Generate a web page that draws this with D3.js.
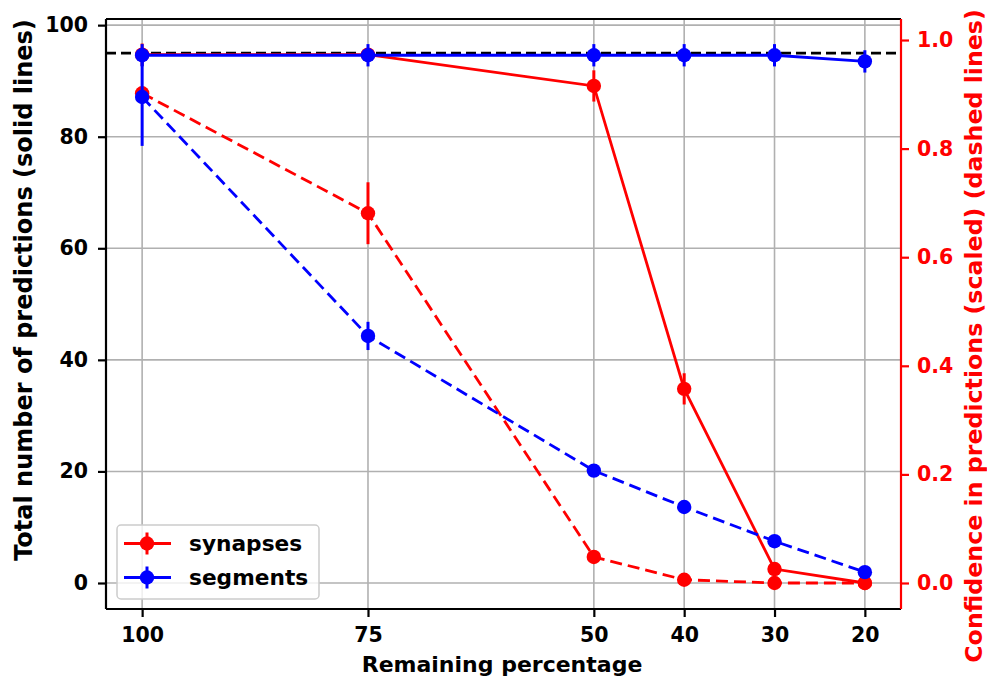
<!DOCTYPE html>
<html><head><meta charset="utf-8">
<script src="https://cdn.jsdelivr.net/npm/d3@7"></script>
<style>
body{margin:0;background:#fff}
svg{display:block}
text{font-family:"DejaVu Sans",sans-serif;font-weight:bold}
</style>
</head><body>
<svg id="chart" width="987" height="680"></svg>
<script>
// ---------- data ----------
const remaining        = [100, 75, 50, 40, 30, 20];
const synapsesCount    = [94.7, 94.7, 89.1, 34.8, 2.5, 0.0];
const synapsesCountErr = [2.0, 0.6, 2.8, 2.8, 0.8, 0.2];
const segmentsCount    = [94.6, 94.6, 94.6, 94.6, 94.6, 93.5];
const segmentsCountErr = [2.0, 2.0, 2.0, 2.0, 2.0, 2.0];
const synapsesConf     = [0.902, 0.681, 0.048, 0.006, 0.0, 0.0];
const synapsesConfErr  = [0.012, 0.057, 0.004, 0.003, 0.001, 0.0];
const segmentsConf     = [0.895, 0.455, 0.207, 0.140, 0.077, 0.020];
const segmentsConfErr  = [0.090, 0.026, 0.003, 0.003, 0.003, 0.002];
const referenceLevel   = 95;
const xTicks      = [100, 75, 50, 40, 30, 20];
const yLeftTicks  = [0, 20, 40, 60, 80, 100];
const yRightTicks = [0.0, 0.2, 0.4, 0.6, 0.8, 1.0];
const seriesNames = ["synapses", "segments"];
const seriesColors = ["#ff0000", "#0000ff"];

// ---------- layout ----------
const plot = {left: 106, right: 901, top: 19, bottom: 609};
const svg = d3.select("#chart");

const x = d3.scaleLinear().domain([104, 16]).range([plot.left, plot.right]);
const yL = d3.scaleLinear().domain([-4.66, 101.1]).range([plot.bottom, plot.top]);
const yR = d3.scaleLinear().domain([-0.0479, 1.0387]).range([plot.bottom, plot.top]);

const TICKFS = 20.5;
const gridColor = "#b0b0b0";
const LW = 2.8, ELW = 3, R = 7.2;

// grid
const grid = svg.append("g");
grid.selectAll("line.gx").data(xTicks).join("line")
  .attr("x1", d => x(d)).attr("x2", d => x(d))
  .attr("y1", plot.top).attr("y2", plot.bottom)
  .attr("stroke", gridColor).attr("stroke-width", 1.6);
grid.selectAll("line.gy").data(yLeftTicks).join("line")
  .attr("x1", plot.left).attr("x2", plot.right)
  .attr("y1", d => yL(d)).attr("y2", d => yL(d))
  .attr("stroke", gridColor).attr("stroke-width", 1.6);

// clip
svg.append("clipPath").attr("id", "clip").append("rect")
  .attr("x", plot.left).attr("y", plot.top)
  .attr("width", plot.right - plot.left).attr("height", plot.bottom - plot.top);
const marks = svg.append("g").attr("clip-path", "url(#clip)");

// reference line
marks.append("line")
  .attr("x1", plot.left).attr("x2", plot.right)
  .attr("y1", yL(referenceLevel)).attr("y2", yL(referenceLevel))
  .attr("stroke", "#000").attr("stroke-width", 2.8).attr("stroke-dasharray", "10,5");

function drawSeries(vals, errs, yScale, color, dashed) {
  const pts = remaining.map((r, i) => ({x: r, y: vals[i], e: errs[i]}));
  const g = marks.append("g");
  g.selectAll("line.err").data(pts).join("line")
    .attr("x1", d => x(d.x)).attr("x2", d => x(d.x))
    .attr("y1", d => yScale(d.y - d.e)).attr("y2", d => yScale(d.y + d.e))
    .attr("stroke", color).attr("stroke-width", ELW);
  g.append("path")
    .attr("d", d3.line().x(d => x(d.x)).y(d => yScale(d.y))(pts))
    .attr("fill", "none").attr("stroke", color).attr("stroke-width", LW)
    .attr("stroke-dasharray", dashed ? "12,6" : null);
  g.selectAll("circle").data(pts).join("circle")
    .attr("cx", d => x(d.x)).attr("cy", d => yScale(d.y)).attr("r", R)
    .attr("fill", color);
}
drawSeries(synapsesCount, synapsesCountErr, yL, seriesColors[0], false);
drawSeries(segmentsCount, segmentsCountErr, yL, seriesColors[1], false);
drawSeries(synapsesConf, synapsesConfErr, yR, seriesColors[0], true);
drawSeries(segmentsConf, segmentsConfErr, yR, seriesColors[1], true);

// spines
const sp = svg.append("g").attr("stroke-width", 2.2);
sp.append("line").attr("x1", plot.left).attr("x2", plot.right).attr("y1", plot.top).attr("y2", plot.top).attr("stroke", "#000");
sp.append("line").attr("x1", plot.left).attr("x2", plot.right).attr("y1", plot.bottom).attr("y2", plot.bottom).attr("stroke", "#000");
sp.append("line").attr("x1", plot.left).attr("x2", plot.left).attr("y1", plot.top).attr("y2", plot.bottom).attr("stroke", "#000");
sp.append("line").attr("x1", plot.right).attr("x2", plot.right).attr("y1", plot.top).attr("y2", plot.bottom).attr("stroke", "#ff0000");

// axes
function styleAxis(g, color) {
  g.select(".domain").remove();
  g.selectAll(".tick line").attr("stroke", color).attr("stroke-width", 2.2);
  g.selectAll(".tick text").attr("fill", color).attr("font-size", TICKFS)
    .attr("font-family", "DejaVu Sans").attr("font-weight", "bold");
}
const xAxis = svg.append("g").attr("transform", `translate(0,${plot.bottom})`)
  .call(d3.axisBottom(x).tickValues(xTicks).tickFormat(d3.format("d")).tickSizeOuter(0).tickSize(8).tickPadding(10));
styleAxis(xAxis, "#000");
const yAxisL = svg.append("g").attr("transform", `translate(${plot.left},0)`)
  .call(d3.axisLeft(yL).tickValues(yLeftTicks).tickFormat(d3.format("d")).tickSizeOuter(0).tickSize(8).tickPadding(10));
styleAxis(yAxisL, "#000");
const yAxisR = svg.append("g").attr("transform", `translate(${plot.right},0)`)
  .call(d3.axisRight(yR).tickValues(yRightTicks).tickFormat(d3.format(".1f")).tickSizeOuter(0).tickSize(8).tickPadding(8));
styleAxis(yAxisR, "#ff0000");

// axis labels
svg.append("text").attr("x", 502).attr("y", 672).attr("text-anchor", "middle")
  .attr("font-size", 22).attr("fill", "#000").text("Remaining percentage");
svg.append("text").attr("transform", "translate(32,290) rotate(-90)").attr("text-anchor", "middle")
  .attr("font-size", 24).attr("fill", "#000").text("Total number of predictions (solid lines)");
svg.append("text").attr("transform", "translate(982,336) rotate(-90)").attr("text-anchor", "middle")
  .attr("font-size", 23.7).attr("fill", "#ff0000").text("Confidence in predictions (scaled) (dashed lines)");

// legend
const lg = svg.append("g");
lg.append("rect").attr("x", 117).attr("y", 525).attr("width", 202).attr("height", 74)
  .attr("rx", 4).attr("fill", "#fff").attr("fill-opacity", 0.8)
  .attr("stroke", "#cccccc").attr("stroke-width", 1.5);
const legendRows = lg.selectAll("g.row").data(seriesNames).join("g")
  .attr("transform", (d, i) => `translate(0,${543.5 + i * 34})`);
legendRows.append("line").attr("x1", 124).attr("x2", 171).attr("y1", 0).attr("y2", 0)
  .attr("stroke", (d, i) => seriesColors[i]).attr("stroke-width", LW);
legendRows.append("line").attr("x1", 147).attr("x2", 147).attr("y1", -11).attr("y2", 11)
  .attr("stroke", (d, i) => seriesColors[i]).attr("stroke-width", ELW);
legendRows.append("circle").attr("cx", 147).attr("cy", 0).attr("r", R)
  .attr("fill", (d, i) => seriesColors[i]);
legendRows.append("text").attr("x", 189).attr("y", 0).attr("dy", "0.35em")
  .attr("font-size", 21.7).attr("fill", "#000").text(d => d);
</script>
</body></html>
